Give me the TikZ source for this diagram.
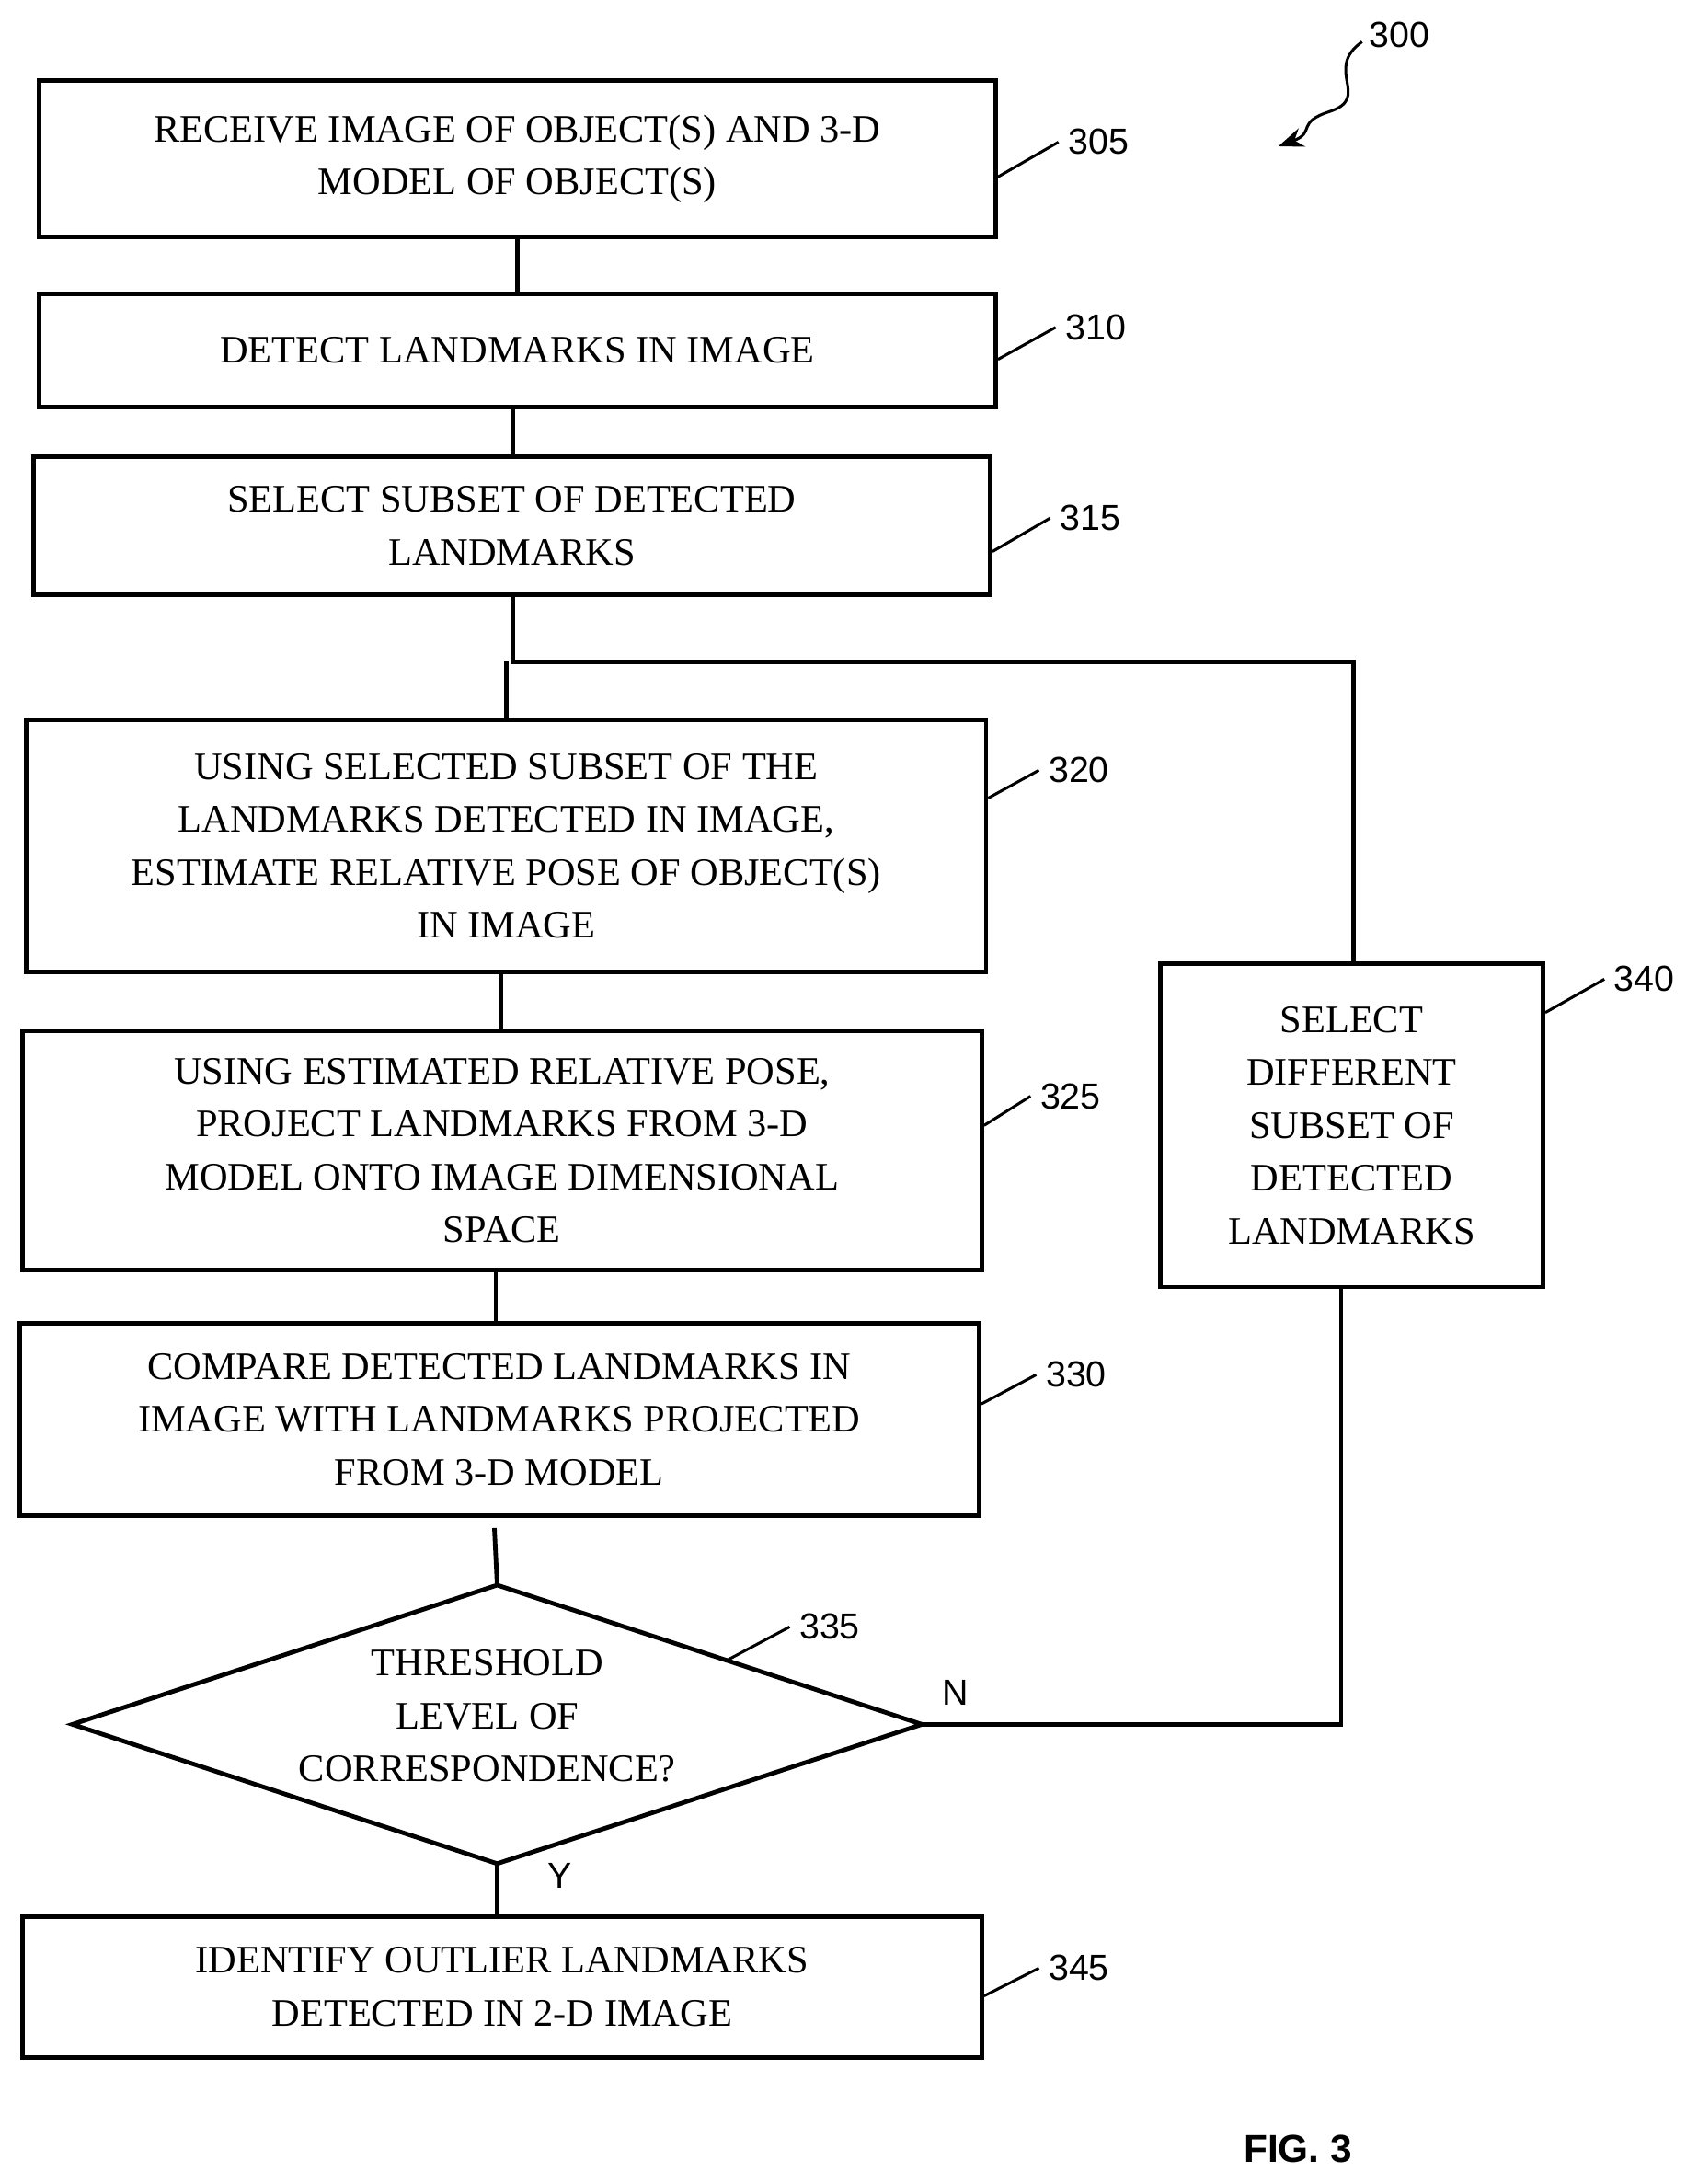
\documentclass[tikz,border=0pt]{standalone}
\usepackage{fontspec}
\setmainfont{Liberation Serif}
\setsansfont{Liberation Sans}
\usetikzlibrary{arrows.meta}
\tikzset{
  box/.style={draw,line width=1.6pt,align=center,inner sep=0pt,font=\fontsize{14}{19}\selectfont},
  ref/.style={font=\sffamily\fontsize{13}{15}\selectfont},
  flow/.style={line width=1.6pt},
  lead/.style={line width=1pt}
}
\begin{document}
\begin{tikzpicture}[x=0.5pt,y=-0.5pt]
    \useasboundingbox (0,0) rectangle (1219,1568);

    \node[box,minimum width=343.5pt,minimum height=56pt] (b305) at (371.5,114)
        {RECEIVE IMAGE OF OBJECT(S) AND 3-D\\MODEL OF OBJECT(S)};
    \node[box,minimum width=343.5pt,minimum height=40.5pt] (b310) at (371.5,251.5)
        {DETECT LANDMARKS IN IMAGE};
    \node[box,minimum width=343.5pt,minimum height=49.5pt] (b315) at (367.5,377.5)
        {SELECT SUBSET OF DETECTED\\LANDMARKS};
    \node[box,minimum width=344.5pt,minimum height=90.5pt] (b320) at (363.5,607.5)
        {USING SELECTED SUBSET OF THE\\LANDMARKS DETECTED IN IMAGE,\\ESTIMATE RELATIVE POSE OF OBJECT(S)\\IN IMAGE};
    \node[box,minimum width=344.5pt,minimum height=86pt] (b325) at (360.5,826)
        {USING ESTIMATED RELATIVE POSE,\\PROJECT LANDMARKS FROM 3-D\\MODEL ONTO IMAGE DIMENSIONAL\\SPACE};
    \node[box,minimum width=344.5pt,minimum height=69pt] (b330) at (358.5,1019)
        {COMPARE DETECTED LANDMARKS IN\\IMAGE WITH LANDMARKS PROJECTED\\FROM 3-D MODEL};
    \node[box,minimum width=344.5pt,minimum height=50.5pt] (b345) at (360.5,1426.5)
        {IDENTIFY OUTLIER LANDMARKS\\DETECTED IN 2-D IMAGE};
    \node[box,minimum width=137.5pt,minimum height=116pt] (b340) at (970.5,808)
        {SELECT\\DIFFERENT\\SUBSET OF\\DETECTED\\LANDMARKS};

    % decision
    \coordinate (d-n) at (357,1138);
    \coordinate (d-s) at (357,1338);
    \coordinate (d-w) at (52,1238);
    \coordinate (d-e) at (662,1238);
    \draw[flow] (d-n) -- (d-e) -- (d-s) -- (d-w) -- cycle;
    \node[align=center,font=\fontsize{14}{19}\selectfont] (d335) at (350,1232)
        {THRESHOLD\\LEVEL OF\\CORRESPONDENCE?};

    % connectors
    \coordinate (j315) at (368,475);
    \coordinate (j340) at (972,475);
    \coordinate (jN) at (963,1238);
    \coordinate (t330) at (355,1097);
    \draw[flow] (b305.south) -- (b310.south |- b310.north);
    \draw[flow] (b310.south -| 368,0) -- (b315.north -| 368,0);
    \draw[flow] (b315.south -| j315) -- (j315) -- (j340) -- (b340.north -| j340);
    \draw[flow] (j315 -| b320.north) -- (b320.north);
    \draw[flow] (b320.south -| 360,0) -- (b325.north -| 360,0);
    \draw[flow] (b325.south -| 356,0) -- (b330.north -| 356,0);
    \draw[flow] (t330) -- (d-n);
    \draw[flow] (d-s) -- (b345.north -| d-s);
    \draw[flow] (d-e) -- (jN) -- (b340.south -| jN);
    \node[ref] (lN) at (686,1215) {N};
    \node[ref] (lY) at (402,1347) {Y};

    % reference numerals
    \node[ref,anchor=west] (r305) at (760,102) {305};
    \draw[lead] (b305.east |- 0,127) -- (r305.west);
    \node[ref,anchor=west] (r310) at (758,235) {310};
    \draw[lead] (b310.east |- 0,258) -- (r310.west);
    \node[ref,anchor=west] (r315) at (754,372) {315};
    \draw[lead] (b315.east |- 0,396) -- (r315.west);
    \node[ref,anchor=west] (r320) at (746,553) {320};
    \draw[lead] (b320.east |- 0,573) -- (r320.west);
    \node[ref,anchor=west] (r325) at (740,787) {325};
    \draw[lead] (b325.east |- 0,808) -- (r325.west);
    \node[ref,anchor=west] (r330) at (744,987) {330};
    \draw[lead] (b330.east |- 0,1008) -- (r330.west);
    \node[ref,anchor=west] (r335) at (567,1168) {335};
    \draw[lead] (522,1192) -- (r335.west);
    \node[ref,anchor=west] (r340) at (1152,703) {340};
    \draw[lead] (b340.east |- 0,727) -- (r340.west);
    \node[ref,anchor=west] (r345) at (746,1413) {345};
    \draw[lead] (b345.east |- 0,1433) -- (r345.west);

    \node[ref] (r300) at (1005,25) {300};
    \draw[lead,-{Stealth[length=9pt,width=7pt]}] (978,30) .. controls (950,50) and (985,70) .. (955,80)
        .. controls (930,88) and (945,95) .. (918,105);

    \node[font=\sffamily\bfseries\fontsize{14}{16}\selectfont] (fig) at (932,1543) {FIG. 3};
\end{tikzpicture}
\end{document}
